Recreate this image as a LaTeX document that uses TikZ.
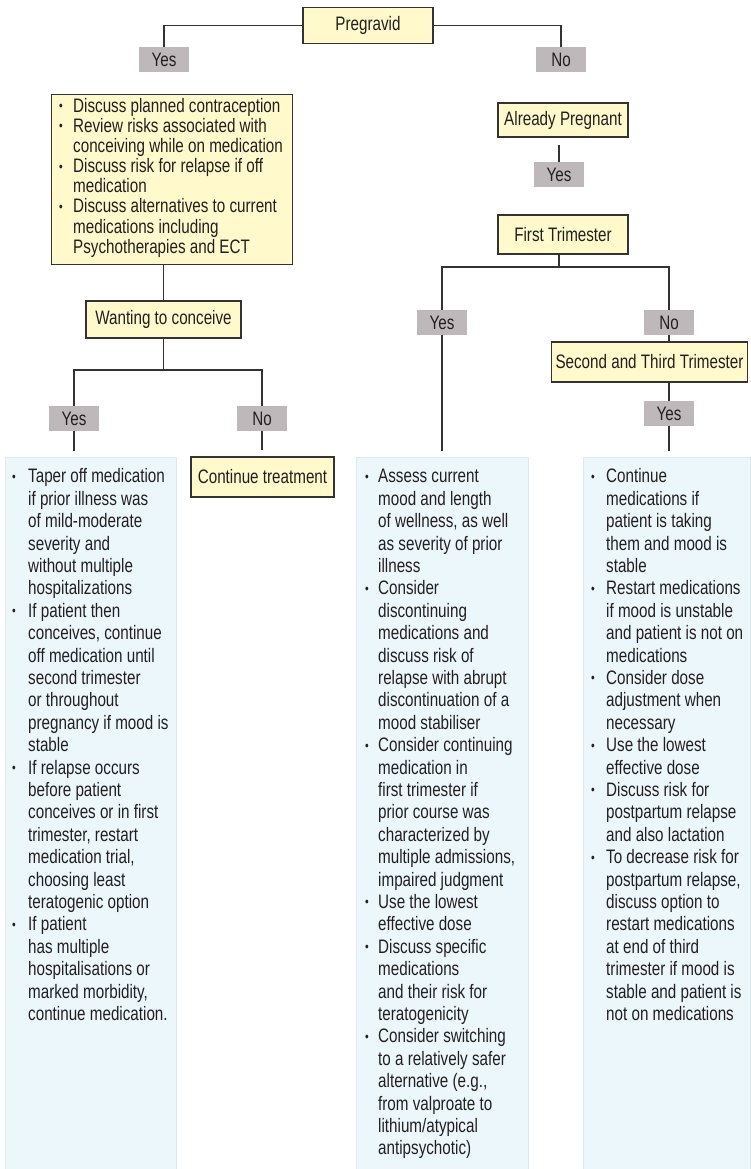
\documentclass[tikz,border=0pt]{standalone}
\usepackage{fontspec}
\setmainfont{Liberation Sans}[FakeStretch=0.78]
\definecolor{yel}{HTML}{FFF9CC}
\definecolor{lgray}{HTML}{BEB8BA}
\definecolor{bfill}{HTML}{ECF7FC}
\definecolor{bedge}{HTML}{DCEAF0}
\definecolor{linec}{HTML}{333333}
\definecolor{txt}{HTML}{231F20}
\newcommand\mybul{{\fontsize{13.5}{13.5}\selectfont\raisebox{1.5pt}{•}}}
\tikzset{
  every node/.style={text=txt},
  ybox/.style={draw=linec, line width=1.2pt, fill=yel, inner sep=0pt,
    font=\fontsize{19.5}{20}\selectfont},
  lbl/.style={fill=lgray, inner sep=0pt, minimum width=50, minimum height=25,
    font=\fontsize{19.5}{20}\selectfont},
  bbox/.style={draw=bedge, line width=0.6pt, fill=bfill, inner sep=0pt, anchor=north west},
  btext/.style={inner sep=0pt, anchor=north west, align=left,
    font=\fontsize{19.5}{22.4}\selectfont},
  conn/.style={draw=linec, line width=1.2pt},
}
\begin{document}
\begin{tikzpicture}[x=1pt,y=-1pt]
\useasboundingbox[fill=white] (0,0) rectangle (750,1169);

% top level
\node[ybox, minimum width=130, minimum height=36] (preg) at (368,25.5) {Pregravid};
\node[lbl] (yes1) at (164,59.5) {Yes};
\node[lbl] (no1) at (561,59.5) {No};
\draw[conn] (preg.west) -| (yes1.north);
\draw[conn] (preg.east) -| (no1.north);

% left: pregravid yes
\node[ybox, minimum width=241, minimum height=170, anchor=north west] (yb) at (51,94) {};
\node[btext, font=\fontsize{19.5}{20}\selectfont] (ybt) at (59,98) {%
\begin{tabular}{@{}p{14pt}@{}l@{}}
\mybul & Discuss planned contraception\\
\mybul & Review risks associated with\\
 & conceiving while on medication\\
\mybul & Discuss risk for relapse if off\\
 & medication\\
\mybul & Discuss alternatives to current\\
 & medications including\\
 & Psychotherapies and ECT
\end{tabular}};

\node[ybox, minimum width=155, minimum height=37] (wc) at (163.5,319.5) {Wanting to conceive};
\draw[conn] (wc.north) -- (wc.north |- yb.south);
\coordinate (wcj) at (163.5,370);
\draw[conn] (wc.south) -- (wcj);
\node[lbl] (yes3) at (74,418.5) {Yes};
\node[lbl] (no3) at (262,418.5) {No};
\draw[conn] (yes3.north) |- (wcj) -| (no3.north);

\node[bbox, minimum width=171, minimum height=712] (lb) at (5,457) {};
\node[ybox, minimum width=143, minimum height=40] (ct) at (262.5,477) {Continue treatment};
\draw[conn, shorten >=6pt] (yes3.south) -- (yes3.south |- lb.north);
\draw[conn, shorten >=6pt] (no3.south) -- (no3.south |- ct.north);

\node[btext] (lbt) at (12,467) {%
\begin{tabular}{@{}p{16pt}@{}l@{}}
\mybul & Taper off medication\\
 & if prior illness was\\
 & of mild-moderate\\
 & severity and\\
 & without multiple\\
 & hospitalizations\\
\mybul & If patient then\\
 & conceives, continue\\
 & off medication until\\
 & second trimester\\
 & or throughout\\
 & pregnancy if mood is\\
 & stable\\
\mybul & If relapse occurs\\
 & before patient\\
 & conceives or in first\\
 & trimester, restart\\
 & medication trial,\\
 & choosing least\\
 & teratogenic option\\
\mybul & If patient\\
 & has multiple\\
 & hospitalisations or\\
 & marked morbidity,\\
 & continue medication.
\end{tabular}};

% right: already pregnant
\node[ybox, minimum width=130, minimum height=34] (ap) at (563,120) {Already Pregnant};
\node[lbl] (yes2) at (559,174.5) {Yes};
\draw[conn, shorten <=7pt] (yes2.north |- ap.south) -- (yes2.north);

\node[ybox, minimum width=130, minimum height=39] (ft) at (563,234.5) {First Trimester};
\coordinate (ftj) at (559,267);
\draw[conn] (ftj |- ft.south) -- (ftj);
\node[lbl] (yes4) at (442,322.5) {Yes};
\node[lbl] (no4) at (669,322.5) {No};
\draw[conn] (yes4.north) |- (ftj) -| (no4.north);

\node[ybox, minimum width=196, minimum height=40] (st) at (649.5,362) {Second and Third Trimester};
\draw[conn] (no4.south) -- (no4.south |- st.north);
\node[lbl] (yes5) at (669,413.5) {Yes};
\draw[conn] (yes5.north |- st.south) -- (yes5.north);

\node[bbox, minimum width=172, minimum height=712] (mb) at (356,457) {};
\node[bbox, minimum width=167, minimum height=712] (rb) at (583,457) {};
\draw[conn, shorten >=6pt] (yes4.south) -- (yes4.south |- mb.north);
\draw[conn, shorten >=6pt] (yes5.south) -- (yes5.south |- rb.north);

\node[btext] (mbt) at (365,467) {%
\begin{tabular}{@{}p{13pt}@{}l@{}}
\mybul & Assess current\\
 & mood and length\\
 & of wellness, as well\\
 & as severity of prior\\
 & illness\\
\mybul & Consider\\
 & discontinuing\\
 & medications and\\
 & discuss risk of\\
 & relapse with abrupt\\
 & discontinuation of a\\
 & mood stabiliser\\
\mybul & Consider continuing\\
 & medication in\\
 & first trimester if\\
 & prior course was\\
 & characterized by\\
 & multiple admissions,\\
 & impaired judgment\\
\mybul & Use the lowest\\
 & effective dose\\
\mybul & Discuss specific\\
 & medications\\
 & and their risk for\\
 & teratogenicity\\
\mybul & Consider switching\\
 & to a relatively safer\\
 & alternative (e.g.,\\
 & from valproate to\\
 & lithium/atypical\\
 & antipsychotic)
\end{tabular}};

\node[btext] (rbt) at (591,467) {%
\begin{tabular}{@{}p{15pt}@{}l@{}}
\mybul & Continue\\
 & medications if\\
 & patient is taking\\
 & them and mood is\\
 & stable\\
\mybul & Restart medications\\
 & if mood is unstable\\
 & and patient is not on\\
 & medications\\
\mybul & Consider dose\\
 & adjustment when\\
 & necessary\\
\mybul & Use the lowest\\
 & effective dose\\
\mybul & Discuss risk for\\
 & postpartum relapse\\
 & and also lactation\\
\mybul & To decrease risk for\\
 & postpartum relapse,\\
 & discuss option to\\
 & restart medications\\
 & at end of third\\
 & trimester if mood is\\
 & stable and patient is\\
 & not on medications
\end{tabular}};
\end{tikzpicture}
\end{document}
